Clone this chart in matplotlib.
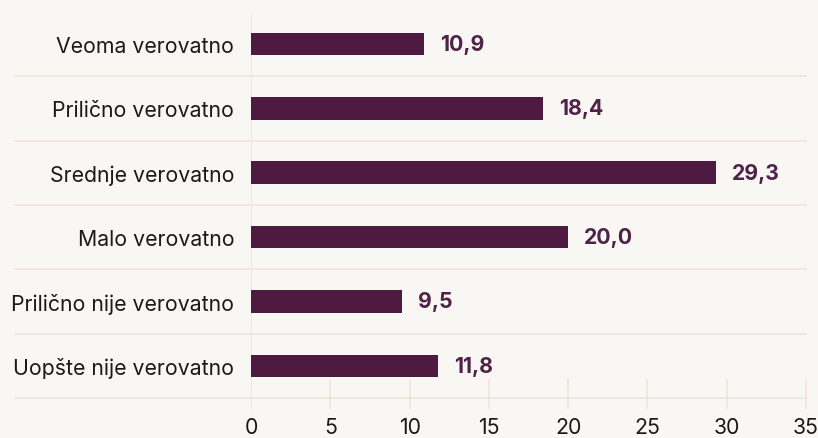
import matplotlib
matplotlib.use("Agg")
import matplotlib.pyplot as plt

categories = ["Veoma verovatno", "Prilično verovatno", "Srednje verovatno",
              "Malo verovatno", "Prilično nije verovatno", "Uopšte nije verovatno"]
values = [10.9, 18.4, 29.3, 20.0, 9.5, 11.8]
xticks = [0, 5, 10, 15, 20, 25, 30, 35]

BG = "#f9f7f3"
BAR = "#4f1a42"
LABEL = "#4f2348"
GRID = "#f0e4da"

plt.rcParams['font.family'] = ['Inter', 'DejaVu Sans']
FS = 15.3

W, H = 818, 439
fig = plt.figure(figsize=(W / 100, H / 100), dpi=100, facecolor=BG)
left, right, top, bottom = 251, 806, 15, 410
ax = fig.add_axes([left / W, 1 - bottom / H, (right - left) / W, (bottom - top) / H])
ax.set_facecolor(BG)

ypos = list(range(len(categories)))
ax.barh(ypos, values, height=0.35, color=BAR, zorder=3)
for y, v in zip(ypos, values):
    ax.annotate(f"{v:.1f}".replace(".", ","), (v, y), xytext=(11.5, 0),
                textcoords="offset points", va="center", ha="left",
                fontsize=FS, fontweight="bold", color=LABEL)

ax.set_xlim(0, 35)
ax.set_ylim(5.67, -0.466)
ax.set_xticks(xticks)
ax.set_xticklabels([str(t) for t in xticks], fontsize=FS, color="#1a1a1a")
ax.set_yticks(ypos)
ax.set_yticklabels(categories, fontsize=FS, color="#1a1a1a")
ax.tick_params(axis="both", length=0)
ax.tick_params(axis="y", pad=12)
ax.tick_params(axis="x", pad=6)
for s in ax.spines.values():
    s.set_visible(False)

# row separators extending left into label area
xmin_frac = (15 - left) / (right - left)
for k in range(len(categories)):
    ax.axhline(k + 0.5, xmin=xmin_frac, xmax=1, color=GRID, lw=1.2,
               clip_on=False, zorder=1)
# zero line full height
ax.vlines(0, -0.466, 5.67, color=GRID, lw=1.2, zorder=1)
# short tick gridlines at bottom
ax.vlines(xticks[1:], 5.2, 5.67, color=GRID, lw=1.2, zorder=1, clip_on=False)

fig.savefig("out.png", dpi=100, facecolor=BG)
